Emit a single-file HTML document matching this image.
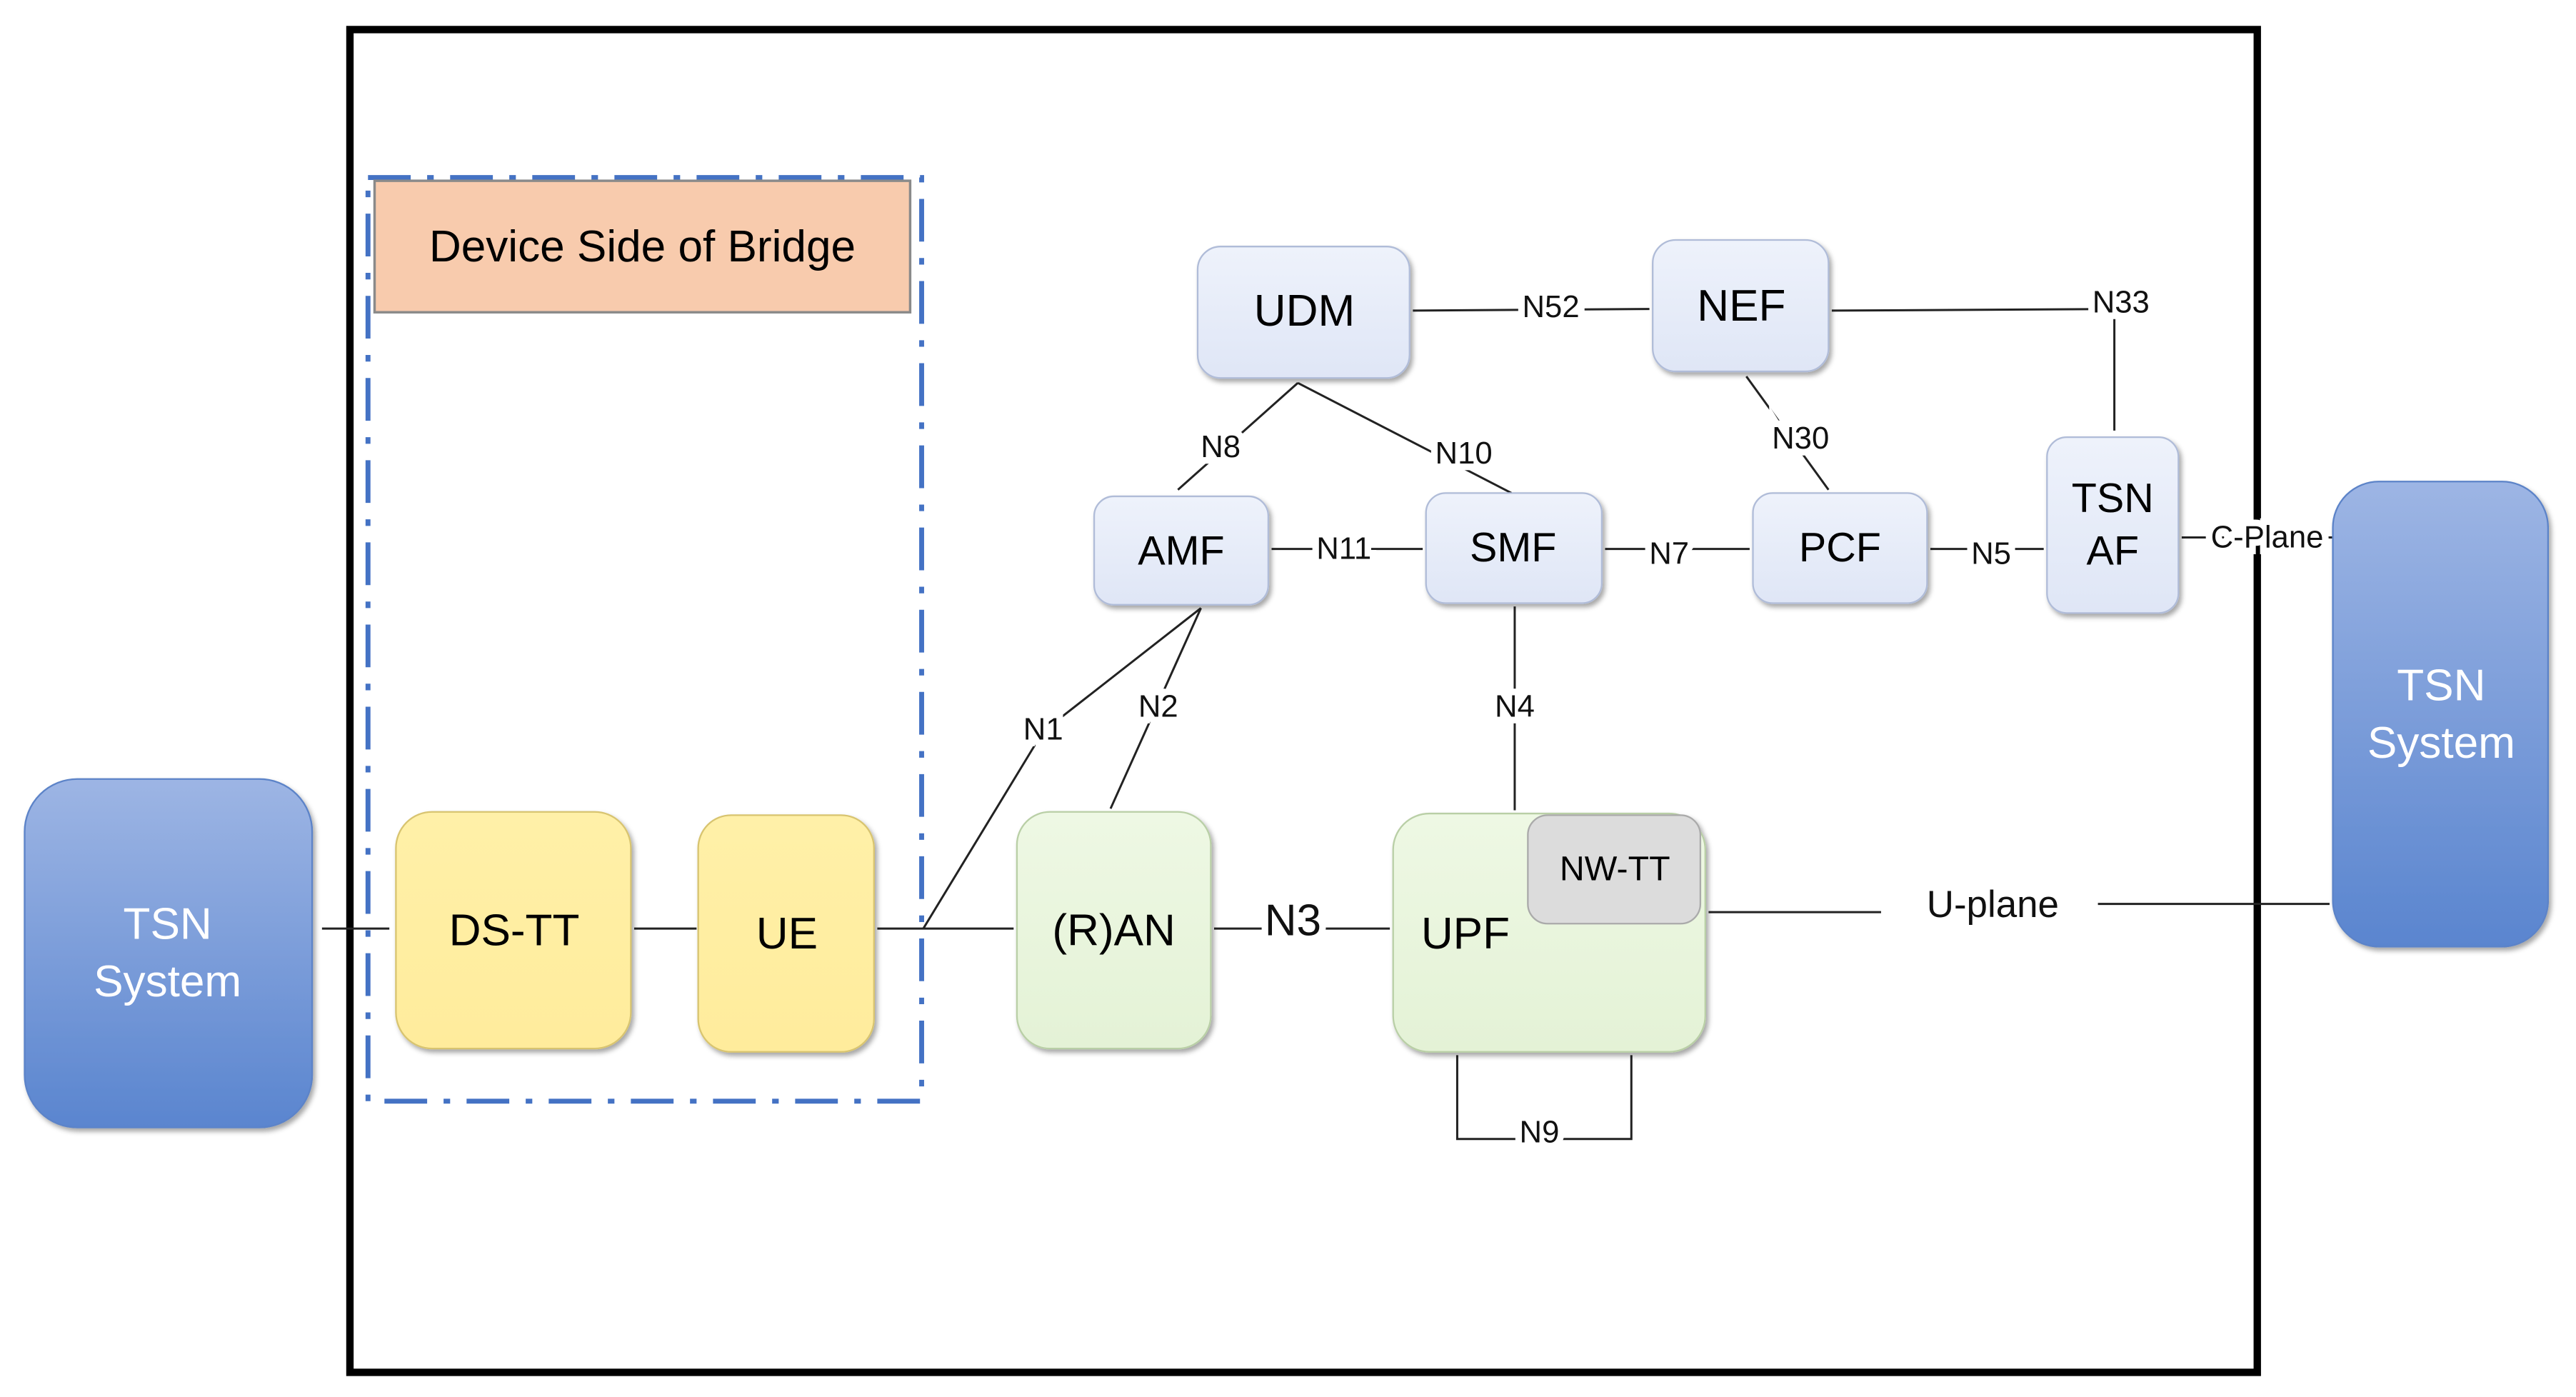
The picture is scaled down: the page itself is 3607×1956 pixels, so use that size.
<!DOCTYPE html>
<html><head><meta charset="utf-8"><style>
html,body{margin:0;padding:0;background:#fff;}
svg{display:block;}
text{font-family:"Liberation Sans",sans-serif;}
.lbl{font-size:19px;fill:#111;text-anchor:middle;dominant-baseline:middle;stroke:#fff;stroke-width:8px;paint-order:stroke;}
.big{font-size:27px;fill:#000;text-anchor:middle;dominant-baseline:middle;}
.ln{stroke:#222;stroke-width:1.3;fill:none;}
</style></head><body>
<svg width="3607" height="1956" viewBox="0 0 1568 850" preserveAspectRatio="none" xmlns="http://www.w3.org/2000/svg">
<defs>
<linearGradient id="blue" x1="0" y1="0" x2="0" y2="1"><stop offset="0" stop-color="#9db5e4"/><stop offset="1" stop-color="#5a85cf"/></linearGradient>
<linearGradient id="lav" x1="0" y1="0" x2="0" y2="1"><stop offset="0" stop-color="#eef2fb"/><stop offset="1" stop-color="#dfe6f6"/></linearGradient>
<linearGradient id="yel" x1="0" y1="0" x2="0" y2="1"><stop offset="0" stop-color="#fff0a8"/><stop offset="1" stop-color="#ffec9c"/></linearGradient>
<linearGradient id="grn" x1="0" y1="0" x2="0" y2="1"><stop offset="0" stop-color="#eef8e4"/><stop offset="1" stop-color="#e4f2d6"/></linearGradient>
<filter id="sh" x="-10%" y="-10%" width="130%" height="130%"><feDropShadow dx="1.5" dy="2" stdDeviation="1.5" flood-color="#000" flood-opacity="0.35"/></filter>
</defs>
<rect x="0" y="0" width="1568" height="850" fill="#fff"/>
<rect x="213" y="18" width="1161" height="817" fill="none" stroke="#000" stroke-width="4.5"/>
<rect x="224" y="108" width="337" height="562" fill="none" stroke="#4472c4" stroke-width="3" stroke-dasharray="26,10,4,10"/>
<rect x="228" y="110" width="326" height="80" fill="#f8cbad" stroke="#8a8a8a" stroke-width="1.5"/>
<text x="391" y="152" class="big" style="font-size:27px">Device Side of Bridge</text>

<g class="ln">
<line x1="196" y1="565" x2="237" y2="565"/>
<line x1="386" y1="565" x2="424" y2="565"/>
<line x1="534" y1="565" x2="617" y2="565"/>
<polyline points="562,565 635,445 731,370"/>
<line x1="676" y1="492" x2="731" y2="370"/>
<line x1="717" y1="298" x2="790" y2="233"/>
<line x1="790" y1="233" x2="920" y2="300"/>
<line x1="860" y1="189" x2="1004" y2="188"/>
<polyline points="1115,189 1287,188 1287,262"/>
<line x1="1063" y1="229" x2="1113" y2="298"/>
<line x1="774" y1="334" x2="866" y2="334"/>
<line x1="977" y1="334" x2="1065" y2="334"/>
<line x1="1175" y1="334" x2="1244" y2="334"/>
<line x1="1328" y1="327" x2="1420" y2="327"/>
<line x1="922" y1="369" x2="922" y2="493"/>
<line x1="739" y1="565" x2="846" y2="565"/>
<line x1="1040" y1="555" x2="1145" y2="555"/>
<line x1="1277" y1="550" x2="1418" y2="550"/>
<polyline points="887,642 887,693 993,693 993,642"/>
</g>

<g filter="url(#sh)">
<rect x="15" y="474" width="175" height="212" rx="32" fill="url(#blue)" stroke="#5b83c8" stroke-width="1"/>
<rect x="1420" y="293" width="131" height="283" rx="28" fill="url(#blue)" stroke="#5b83c8" stroke-width="1"/>
<rect x="241" y="494" width="143" height="144" rx="22" fill="url(#yel)" stroke="#d8c470" stroke-width="1"/>
<rect x="425" y="496" width="107" height="144" rx="20" fill="url(#yel)" stroke="#d8c470" stroke-width="1"/>
<rect x="619" y="494" width="118" height="144" rx="20" fill="url(#grn)" stroke="#b9cfa6" stroke-width="1"/>
<rect x="848" y="495" width="190" height="145" rx="22" fill="url(#grn)" stroke="#b9cfa6" stroke-width="1"/>
<rect x="930" y="496" width="105" height="66" rx="12" fill="#dcdcdc" stroke="#aaa" stroke-width="1"/>
<rect x="729" y="150" width="129" height="80" rx="14" fill="url(#lav)" stroke="#b0bcd8" stroke-width="1"/>
<rect x="1006" y="146" width="107" height="80" rx="14" fill="url(#lav)" stroke="#b0bcd8" stroke-width="1"/>
<rect x="666" y="302" width="106" height="66" rx="12" fill="url(#lav)" stroke="#b0bcd8" stroke-width="1"/>
<rect x="868" y="300" width="107" height="67" rx="12" fill="url(#lav)" stroke="#b0bcd8" stroke-width="1"/>
<rect x="1067" y="300" width="106" height="67" rx="12" fill="url(#lav)" stroke="#b0bcd8" stroke-width="1"/>
<rect x="1246" y="266" width="80" height="107" rx="12" fill="url(#lav)" stroke="#b0bcd8" stroke-width="1"/>
</g>

<text x="102" y="564" class="big" style="fill:#fff">TSN</text>
<text x="102" y="599" class="big" style="fill:#fff">System</text>
<text x="1486" y="419" class="big" style="fill:#fff">TSN</text>
<text x="1486" y="454" class="big" style="fill:#fff">System</text>
<text x="313" y="568" class="big">DS-TT</text>
<text x="479" y="570" class="big">UE</text>
<text x="678" y="568" class="big">(R)AN</text>
<text x="892" y="570" class="big">UPF</text>
<text x="983" y="530" class="big" style="font-size:21px">NW-TT</text>
<text x="794" y="191" class="big">UDM</text>
<text x="1060" y="188" class="big">NEF</text>
<text x="719" y="337" class="big" style="font-size:25px">AMF</text>
<text x="921" y="335" class="big" style="font-size:25px">SMF</text>
<text x="1120" y="335" class="big" style="font-size:25px">PCF</text>
<text x="1286" y="305" class="big" style="font-size:25px">TSN</text>
<text x="1286" y="337" class="big" style="font-size:25px">AF</text>

<text x="635" y="445" class="lbl">N1</text>
<text x="705" y="431" class="lbl">N2</text>
<text x="743" y="273" class="lbl">N8</text>
<text x="891" y="277" class="lbl">N10</text>
<text x="944" y="188" class="lbl">N52</text>
<text x="1291" y="185" class="lbl">N33</text>
<text x="1096" y="268" class="lbl">N30</text>
<text x="818" y="335" class="lbl">N11</text>
<text x="1016" y="338" class="lbl">N7</text>
<text x="1212" y="338" class="lbl">N5</text>
<text x="1380" y="328" class="lbl">C-Plane</text>
<text x="922" y="431" class="lbl">N4</text>
<text x="787" y="562" class="lbl" style="font-size:27px">N3</text>
<text x="1213" y="552" class="lbl" style="font-size:23px">U-plane</text>
<text x="937" y="690" class="lbl">N9</text>
</svg>
</body></html>
